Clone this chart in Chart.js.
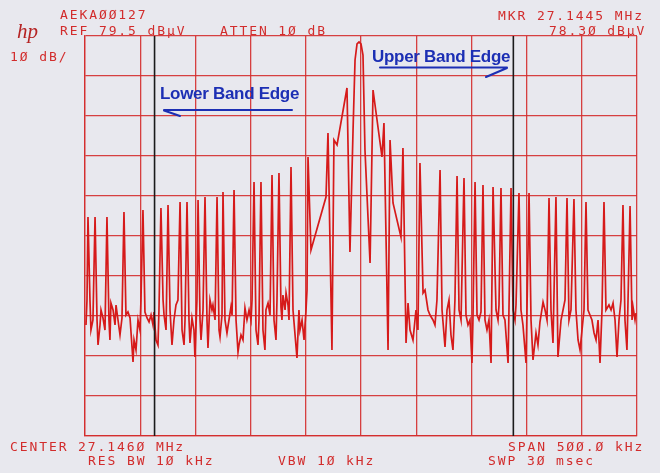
<!DOCTYPE html>
<html lang="en">
<head>
  <meta charset="UTF-8">
  <title>Spectrum plot 27.146 MHz</title>
  <script src="https://cdn.jsdelivr.net/npm/chart.js"></script>
  <style>
    html, body { margin: 0; padding: 0; background: #e8e8ee; }
    #wrap { position: relative; width: 660px; height: 473px; overflow: hidden; }
    #plot { position: absolute; left: 0; top: 0; }
    .lbl {
      position: absolute; white-space: pre; color: #d22c2c;
      font-family: "DejaVu Sans Mono", monospace; font-size: 13px; line-height: 13px;
      letter-spacing: 1.9px;
    }
    .logo {
      position: absolute; left: 17px; top: 21px; color: #b52323;
      font-family: "Liberation Serif", serif; font-style: italic; font-size: 21px; line-height: 21px;
    }
    .note {
      position: absolute; white-space: pre; color: #1c2fb4;
      font-family: "Liberation Sans", Arial, sans-serif; font-weight: bold;
      font-size: 17px; line-height: 17px; letter-spacing: -0.3px;
    }
  </style>
</head>
<body>
<div id="wrap">
  <canvas id="plot" width="660" height="473"></canvas>

  <div class="logo">hp</div>
  <div class="lbl" style="left:60px; top:7.5px;">AEKAØØ127</div>
  <div class="lbl" style="left:60px; top:24px;">REF 79.5 dBµV</div>
  <div class="lbl" style="left:220px; top:24px;">ATTEN 1Ø dB</div>
  <div class="lbl" style="left:498px; top:8.5px;">MKR 27.1445 MHz</div>
  <div class="lbl" style="left:549px; top:24px;">78.3Ø dBµV</div>
  <div class="lbl" style="left:10px; top:50px;">1Ø dB/</div>

  <div class="lbl" style="left:10px; top:440px;">CENTER 27.146Ø MHz</div>
  <div class="lbl" style="left:508px; top:440px;">SPAN 5ØØ.Ø kHz</div>
  <div class="lbl" style="left:88px; top:454px;">RES BW 1Ø kHz</div>
  <div class="lbl" style="left:278px; top:454px;">VBW 1Ø kHz</div>
  <div class="lbl" style="left:488px; top:454px;">SWP 3Ø msec</div>

  <div class="note" style="left:372px; top:48px;">Upper Band Edge</div>
  <div class="note" style="left:160px; top:85px;">Lower Band Edge</div>
</div>

<script>
  // frequency offset from centre (kHz) and level (dBµV)
  const freqKHz = [
    -249.1,-248.2,-247.3,-245.5,-244.6,-242.8,-240.9,-239.1,-238.2,-236.4,
    -235.5,-233.7,-231.9,-230.1,-228.3,-227.4,-226.5,-224.6,-222.8,-221.9,
    -220.1,-218.3,-216.5,-214.7,-212.9,-211.1,-209.2,-206.5,-205.6,-203.8,
    -202.0,-200.2,-199.3,-197.5,-195.7,-193.8,-192.0,-190.2,-188.4,-187.5,
    -185.7,-183.9,-183.0,-181.2,-179.3,-178.4,-176.6,-174.8,-173.0,-171.2,
    -169.4,-167.6,-165.8,-163.9,
    -162.1,-160.3,-159.4,-157.6,-155.8,-154.9,-153.1,-151.3,-150.4,-148.6,
    -147.6,-145.8,-144.9,-143.1,-141.3,-139.5,-138.6,-136.8,-135.0,-134.1,
    -132.2,-130.4,-128.6,-127.7,-125.9,-125.0,-123.2,-121.4,-119.6,-117.8,
    -116.8,-115.0,-113.2,-111.4,-110.5,-108.7,-106.9,-105.1,-103.3,-101.4,
    -99.6,-98.7,-96.9,-95.1,-93.3,-92.4,-90.6,-88.8,-87.0,-86.1,
    -84.2,-82.4,-80.6,-78.8,-77.0,-76.1,-74.3,
    -72.5,-71.6,-70.7,-68.8,-67.9,-66.1,-65.2,-63.4,-61.6,-58.0,
    -56.2,-55.3,-53.4,-51.6,-49.8,-48.9,-48.0,-45.3,-31.7,-29.9,
    -26.3,-24.5,-21.7,-12.7,-10.0,-7.2,-5.4,-3.6,-1.8,0,
    1.8,3.6,8.2,10.9,
    19.0,20.8,24.5,26.3,29.0,36.2,38.0,40.8,42.6,44.4,
    47.1,49.8,51.6,53.4,56.2,58.0,60.7,62.5,65.2,67.0,
    68.8,71.6,73.4,76.1,77.9,79.7,81.5,83.3,85.1,87.0,
    88.8,90.6,93.3,95.1,96.9,98.7,
    100.5,101.4,103.3,105.1,106.9,108.7,110.5,112.3,114.1,115.9,
    117.8,119.6,122.3,124.1,125.0,126.8,128.6,130.4,133.2,135.9,
    137.7,139.5,140.4,143.1,144.9,146.7,149.5,152.2,154.0,155.8,
    158.5,160.3,162.1,164.9,166.7,168.5,170.3,172.1,173.9,176.6,
    178.4,181.2,183.0,184.8,186.6,188.4,190.2,192.9,194.7,196.6,
    198.4,200.2,202.0,203.8,205.6,207.4,209.2,211.1,212.9,214.7,
    216.5,218.3,220.1,221.9,224.6,226.5,228.3,230.1,231.9,233.7,
    235.5,237.3,239.1,240.9,243.7,245.5,246.4,248.2,249.1
  ];
  const levelDbuV = [
    7.25,13.5,34.25,13.5,6,8.5,34.25,8.5,2.25,7.25,
    11,9,6,34.25,8.5,3.5,12.75,11,7.25,12.25,
    8.5,4.75,9,35.5,9.75,10.5,9,-2,3.5,1,
    8.5,6,13.5,36,10.5,9,8,9.75,7.25,10.5,
    3.5,2.25,11,36.5,13.5,9.75,6,37.25,11,2.25,
    8.5,12.25,13.5,38,
    6,2.25,8.5,38,8.5,2.75,9,6,-0.75,13.5,
    38.5,8.5,3.5,11,39.25,8.5,1.5,13.5,11,12.25,
    8.5,39.25,6,4.25,9.75,40.5,8.5,5.25,8.5,11.75,
    9.75,41,8.5,0.5,2.25,4.75,3.5,11.5,8.5,11,
    8.5,13.5,43,6,2.25,8.5,43,6,1,11,
    12.75,9.75,44.75,8.5,3.5,13.5,45.25,
    11.75,8.5,14.75,11,15.25,12.25,8.5,46.75,11,-1,
    11,6,8.5,3.5,11,16,49.25,26,39.25,55.25,
    1,53.5,52.25,66.5,25.5,56,73.5,77.5,78,77.5,
    74.75,51,22.75,66,
    49.25,57.75,1,53.5,37.75,29.25,51.5,2.75,12.75,6,
    3.5,11,6,47.75,15.25,16,11,9.75,8.5,7.25,
    13.5,46,11,1.75,11,13.5,4.75,1,13.5,44.5,
    11,8.5,44,9.75,7.25,8.5,
    -2.25,8.5,43,9.75,8.5,10.5,42.25,8.5,6,8.5,
    -2.25,41.75,11,8.5,12.25,41.5,9.75,8.5,-2.25,41.5,
    11,8.5,12.25,40.25,11,7.25,-2.25,40.25,8.5,-1.5,
    5.25,2.25,8,13,11,8.5,39,11,2.75,39.25,
    -0.75,8.5,11,13.5,39,8.5,11,38.75,11,3.5,
    1,6,11,38,11,9.75,8.5,5.25,3.5,8.5,
    -2.25,11,38,11,12.25,11,12.75,8.5,-0.75,8.5,
    13.5,37.25,8.5,1,37,8.5,11.75,8.5,10.25
  ];
  const bandEdgesKHz = [-187, 138];
  const yGrid = [-20.5, -10.5, -0.5, 9.5, 19.5, 29.5, 39.5, 49.5, 59.5, 69.5, 79.5];

  const gridRed = 'rgba(212, 44, 44, 0.9)';

  const trace = freqKHz.map((f, i) => ({ x: f, y: levelDbuV[i] }));
  const edgeSets = bandEdgesKHz.map(f => ({
    data: [{ x: f, y: yGrid[0] }, { x: f, y: yGrid[yGrid.length - 1] }],
    showLine: true, borderColor: '#1b1b1b', borderWidth: 1.6, pointRadius: 0
  }));

  // blue hand-drawn arrows under the notes
  const arrows = {
    id: 'arrows',
    afterDraw(c) {
      const g = c.ctx;
      g.save();
      g.strokeStyle = '#1c2fb4';
      g.lineWidth = 2;
      g.lineCap = 'round';
      g.beginPath();
      g.moveTo(380, 67.5); g.lineTo(507, 67.5);
      g.moveTo(507, 68); g.lineTo(486, 77);
      g.moveTo(164, 110); g.lineTo(292, 110);
      g.moveTo(164, 110.5); g.lineTo(180, 116);
      g.stroke();
      g.restore();
    }
  };

  new Chart(document.getElementById('plot'), {
    type: 'scatter',
    data: {
      datasets: [
        ...edgeSets,
        { data: trace, showLine: true, borderColor: '#d61a1a', borderWidth: 1.7, pointRadius: 0 }
      ]
    },
    options: {
      responsive: false,
      animation: false,
      layout: { padding: { left: 85, top: 36, right: 23, bottom: 37 } },
      plugins: { legend: { display: false }, tooltip: { enabled: false } },
      scales: {
        x: {
          type: 'linear', min: -250, max: 250,
          ticks: { display: false, stepSize: 50 },
          grid: { color: gridRed, lineWidth: 1.3, drawTicks: false },
          border: { color: gridRed, width: 1.3 }
        },
        y: {
          min: yGrid[0], max: yGrid[yGrid.length - 1],
          afterBuildTicks: s => { s.ticks = yGrid.map(v => ({ value: v })); },
          ticks: { display: false },
          grid: { color: gridRed, lineWidth: 1.3, drawTicks: false },
          border: { color: gridRed, width: 1.3 }
        }
      }
    },
    plugins: [arrows]
  });
</script>
</body>
</html>
